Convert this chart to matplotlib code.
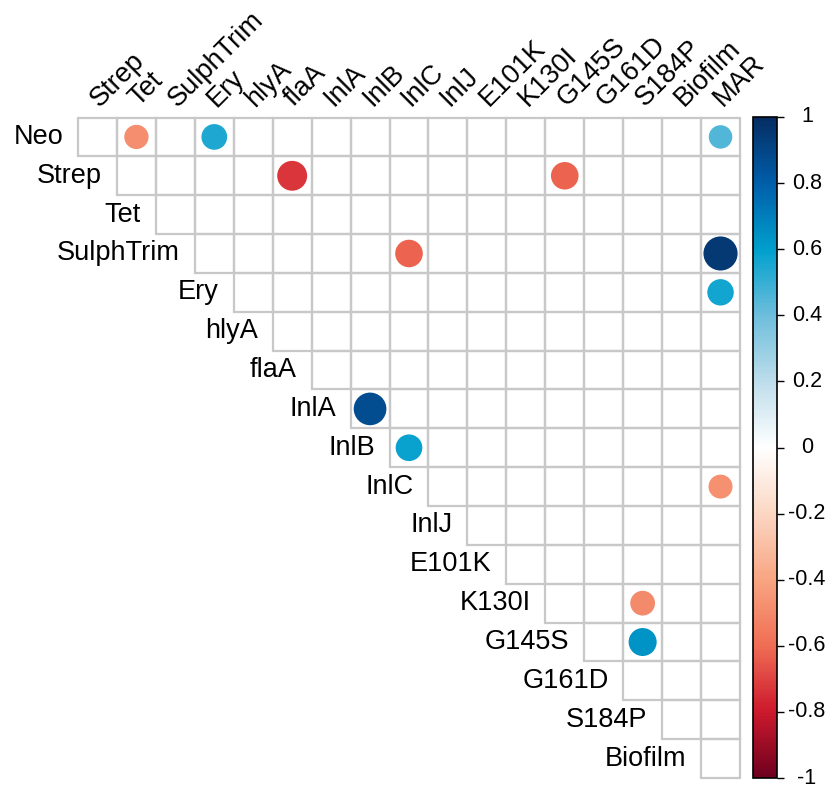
import numpy as np
import matplotlib
matplotlib.use('Agg')
import matplotlib.pyplot as plt
from matplotlib.colors import LinearSegmentedColormap, Normalize
from matplotlib.patches import Circle, Rectangle
from matplotlib.transforms import blended_transform_factory

plt.rcParams['font.family'] = ['Liberation Sans', 'DejaVu Sans']

# row variables (upper triangle, diagonal dropped)
row_vars = ['Neo', 'Strep', 'Tet', 'SulphTrim', 'Ery', 'hlyA', 'flaA', 'InlA', 'InlB',
            'InlC', 'InlJ', 'E101K', 'K130I', 'G145S', 'G161D', 'S184P', 'Biofilm']
col_vars = ['Strep', 'Tet', 'SulphTrim', 'Ery', 'hlyA', 'flaA', 'InlA', 'InlB', 'InlC',
            'InlJ', 'E101K', 'K130I', 'G145S', 'G161D', 'S184P', 'Biofilm', 'MAR']

# significant correlations only (others left blank)
pair_row = ['Neo', 'Neo', 'Neo', 'Strep', 'Strep', 'SulphTrim', 'SulphTrim', 'Ery',
            'InlA', 'InlB', 'InlC', 'K130I', 'G145S']
pair_col = ['Tet', 'Ery', 'MAR', 'flaA', 'G145S', 'InlC', 'MAR', 'MAR',
            'InlB', 'InlC', 'MAR', 'S184P', 'S184P']
pair_r = [-0.48, 0.54, 0.45, -0.73, -0.62, -0.62, 0.95, 0.57,
          0.87, 0.58, -0.47, -0.5, 0.64]

cbar_ticks = [-1, -0.8, -0.6, -0.4, -0.2, 0, 0.2, 0.4, 0.6, 0.8, 1]

cmap = LinearSegmentedColormap.from_list('corr', [
    '#6E001E', '#CD192D', '#F06E55', '#F8A582', '#FBD7C3', '#FFFFFF',
    '#BEDDEB', '#6EBEDC', '#00A0CD', '#005FAA', '#052D64'])
norm = Normalize(-1, 1)

W, H = 826, 790
fig = plt.figure(figsize=(W / 100, H / 100), dpi=100)
gx0, gx1, gy0, gy1 = 78, 740, 117.5, 778
ax = fig.add_axes([gx0 / W, 1 - gy1 / H, (gx1 - gx0) / W, (gy1 - gy0) / H])
n = len(col_vars)
ax.set_xlim(-0.5, n - 0.5)
ax.set_ylim(n - 0.5, -0.5)
ax.axis('off')

grid_col = '#C8C8C8'
for i in range(len(row_vars)):
    for j in range(i, n):
        ax.add_patch(Rectangle((j - 0.5, i - 0.5), 1, 1, fill=False,
                               edgecolor=grid_col, linewidth=1.6, clip_on=False))

for rname, cname, r in zip(pair_row, pair_col, pair_r):
    i = row_vars.index(rname)
    j = col_vars.index(cname)
    ax.add_patch(Circle((j, i), 0.45 * np.sqrt(abs(r)), facecolor=cmap(norm(r)),
                        edgecolor='none'))

fs = 19.5
for i, name in enumerate(row_vars):
    ax.text(i - 0.88, i, name, ha='right', va='center', fontsize=fs)
for j, name in enumerate(col_vars):
    ax.text(j + 0.05, -0.76, name, ha='left', va='baseline', fontsize=fs,
            rotation=45, rotation_mode='anchor')

cax = fig.add_axes([753 / W, 1 - 778 / H, 24 / W, (778 - 117) / H])
sm = matplotlib.cm.ScalarMappable(norm=norm, cmap=cmap)
cb = fig.colorbar(sm, cax=cax, ticks=cbar_ticks)
cb.ax.set_yticklabels([])
cb.ax.tick_params(length=5, width=1)
cb.outline.set_linewidth(1.2)
trans = blended_transform_factory(fig.transFigure, cax.transData)
for t in cbar_ticks:
    cax.text(807 / W, t, f'{t:g}', transform=trans, ha='center', va='center',
             fontsize=15.5)

fig.savefig('out.png', dpi=100)
